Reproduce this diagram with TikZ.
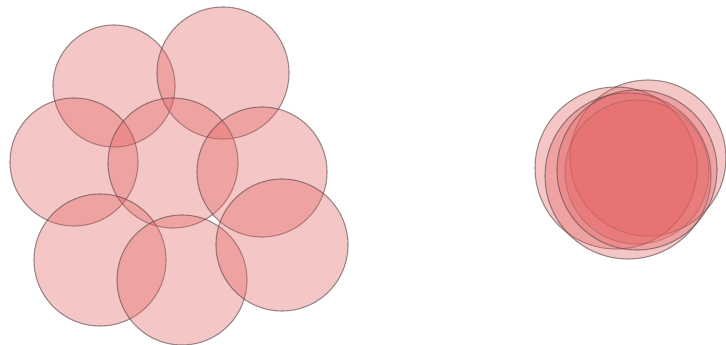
\documentclass[tikz,border=0pt]{standalone}
\definecolor{cellred}{RGB}{228,98,98}
\definecolor{rimgray}{RGB}{90,72,72}
\tikzset{cell/.style={fill=cellred,fill opacity=0.36,draw=rimgray,draw opacity=0.6,line width=1.1pt}}
\begin{document}
\begin{tikzpicture}[x=1pt,y=-1pt]
\useasboundingbox (0,0) rectangle (726,345);
% spread-out cluster
\path[cell] (114,86) circle (61);
\path[cell] (223,73) circle (66);
\path[cell] (74,162) circle (64);
\path[cell] (173,163) circle (65);
\path[cell] (262,172) circle (65);
\path[cell] (100,260) circle (66);
\path[cell] (182,280) circle (65);
\path[cell] (282,245) circle (66);
% stacked cluster
\path[cell] (648,158) circle (78);
\path[cell] (616,168) circle (81);
\path[cell] (628,176) circle (83);
\path[cell] (637,170) circle (80);
\path[cell,draw opacity=0.25] (637,172) circle (72);
\end{tikzpicture}
\end{document}
